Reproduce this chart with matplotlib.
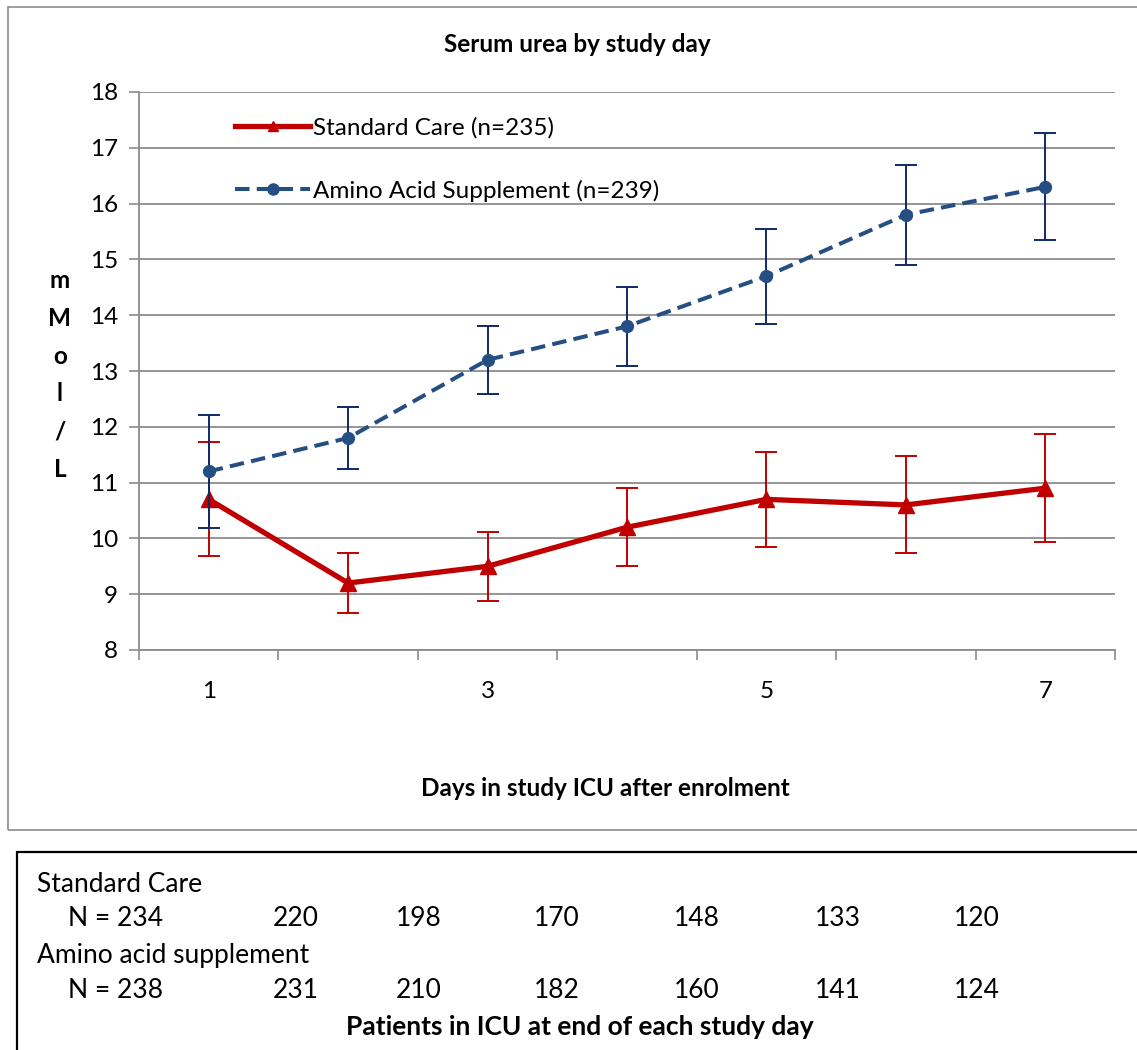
import matplotlib
matplotlib.use("Agg")
import matplotlib.pyplot as plt
from matplotlib.patches import Rectangle
from matplotlib.lines import Line2D

plt.rcParams['font.family'] = ['Lato', 'DejaVu Sans']

# ---------- data ----------
days = [1, 2, 3, 4, 5, 6, 7]
sc_mean = [10.7, 9.2, 9.5, 10.2, 10.7, 10.6, 10.9]
sc_err = [1.02, 0.54, 0.62, 0.70, 0.85, 0.87, 0.97]
aa_mean = [11.2, 11.8, 13.2, 13.8, 14.7, 15.8, 16.3]
aa_err = [1.01, 0.55, 0.61, 0.71, 0.85, 0.90, 0.96]
xtick_days = [1, 3, 5, 7]
yticks = list(range(8, 19))

sc_label = "Standard Care (n=235)"
aa_label = "Amino Acid Supplement (n=239)"

sc_n = [234, 220, 198, 170, 148, 133, 120]
aa_n = [238, 231, 210, 182, 160, 141, 124]

RED = "#C00000"
BLUE = "#254E83"
NAVY = "#0F2A66"
GRID = "#8C8C8C"
DASH = (0, (3.6, 1.8))

W, H = 1137, 1050
fig = plt.figure(figsize=(W / 100, H / 100), dpi=100)


def fx(x):
    return x / W


def fy(y):
    return 1 - y / H


# outer frames (chart area + table box)
fig.patches.append(Rectangle((fx(8), fy(830)), fx(1140) - fx(8), fy(7) - fy(830),
                             transform=fig.transFigure, fill=False, ec=GRID, lw=1.2))
fig.patches.append(Rectangle((fx(17), fy(1060)), fx(1145) - fx(17), fy(852) - fy(1060),
                             transform=fig.transFigure, fill=False, ec="black", lw=1.6))

ax = fig.add_axes([fx(139), fy(650), fx(1115) - fx(139), fy(92) - fy(650)])

ax.errorbar(days, sc_mean, yerr=sc_err, color=RED, lw=3.8, marker="^", ms=11,
            ecolor=RED, elinewidth=1.4, capsize=8, capthick=1.4, zorder=3)
ax.errorbar(days, aa_mean, yerr=aa_err, color=BLUE, lw=2.9, ls=DASH,
            marker="o", ms=8.5, ecolor=NAVY, elinewidth=1.4, capsize=8, capthick=1.4,
            zorder=4)

ax.set_xlim(0.5, 7.5)
ax.set_ylim(8, 18)
ax.set_yticks(yticks)
ax.set_xticks(xtick_days)
ax.set_xticks([d - 0.5 for d in days] + [7.5], minor=True)
ax.tick_params(axis="x", which="major", length=0, pad=22, labelsize=17.5)
ax.tick_params(axis="x", which="minor", length=7, width=1.2, color=GRID, direction="out")
ax.tick_params(axis="y", length=7, width=1.2, color=GRID, pad=8, labelsize=17.5)
ax.grid(axis="y", color=GRID, lw=1.3)
ax.set_axisbelow(True)
for s in ["top", "right"]:
    ax.spines[s].set_visible(False)
for s in ["left", "bottom"]:
    ax.spines[s].set_color(GRID)
    ax.spines[s].set_linewidth(1.3)

handles = [
    Line2D([], [], color=RED, lw=3.8, marker="^", ms=7),
    Line2D([], [], color=BLUE, lw=2.9, ls=DASH, marker="o", ms=8),
]
ax.legend(handles, [sc_label, aa_label], loc="upper left",
          bbox_to_anchor=((235 - 139) / (1115 - 139), 1 - (117 - 92) / 558),
          bbox_transform=ax.transAxes,
          frameon=False, fontsize=17.5, handlelength=3.1, handletextpad=0.1,
          labelspacing=1.7, borderpad=0, borderaxespad=0)

fig.text(fx(577), fy(45), "Serum urea by study day", ha="center", va="center",
         fontsize=17.5, fontweight="bold")
fig.text(fx(605), fy(789), "Days in study ICU after enrolment", ha="center", va="center",
         fontsize=17.5, fontweight="bold")
fig.text(fx(60), fy(375), "\n".join("mMol/L"), ha="center", va="center",
         fontsize=17.5, fontweight="bold", linespacing=1.78)

# ---------- patient counts table ----------
col_x = [296, 419, 557, 697, 838, 977]
fs_tab = 19
fig.text(fx(37), fy(884), "Standard Care", ha="left", va="center", fontsize=fs_tab)
fig.text(fx(68), fy(919), f"N = {sc_n[0]}", ha="left", va="center", fontsize=fs_tab)
for x, n in zip(col_x, sc_n[1:]):
    fig.text(fx(x), fy(919), str(n), ha="center", va="center", fontsize=fs_tab)
fig.text(fx(37), fy(955), "Amino acid supplement", ha="left", va="center", fontsize=fs_tab)
fig.text(fx(68), fy(990), f"N = {aa_n[0]}", ha="left", va="center", fontsize=fs_tab)
for x, n in zip(col_x, aa_n[1:]):
    fig.text(fx(x), fy(990), str(n), ha="center", va="center", fontsize=fs_tab)
fig.text(fx(580), fy(1027), "Patients in ICU at end of each study day", ha="center",
         va="center", fontsize=19, fontweight="bold")

fig.savefig("out.png", dpi=100)
